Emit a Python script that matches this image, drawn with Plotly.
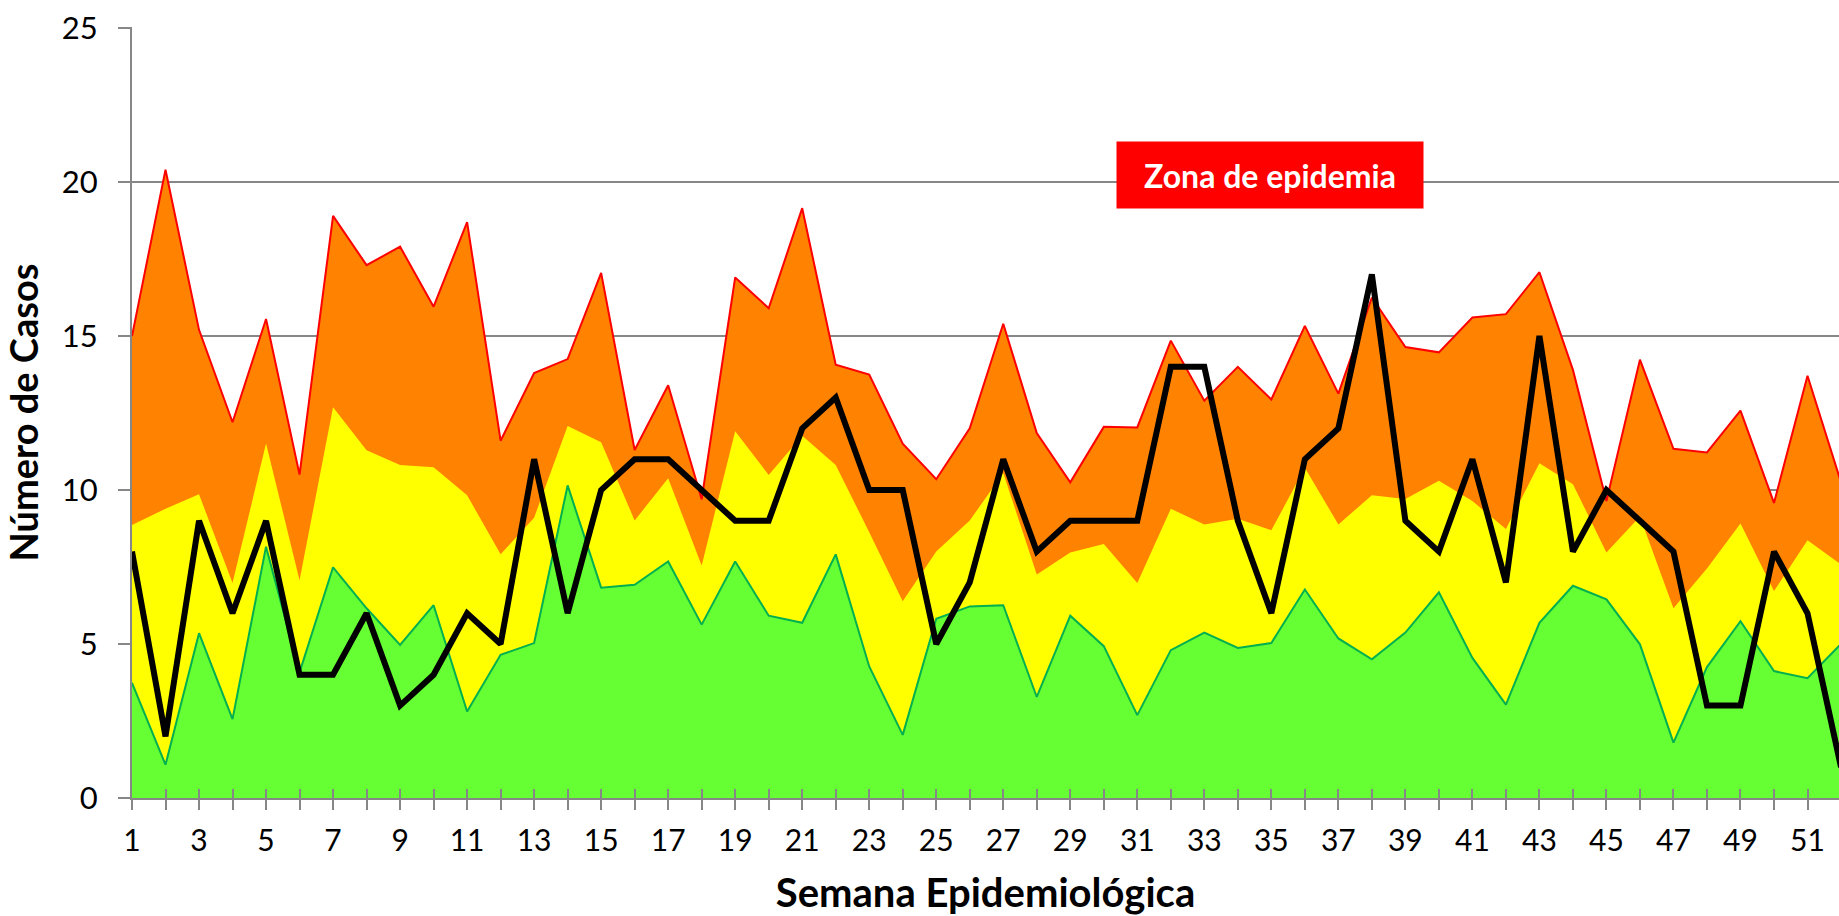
import plotly.graph_objects as go

weeks = list(range(1, 53))

# Upper limit (epidemic threshold) - top of orange zone
upper = [15.0, 20.4, 15.2, 12.2, 15.55, 10.5, 18.9, 17.3, 17.9, 15.95,
         18.7, 11.6, 13.8, 14.25, 17.05, 11.3, 13.4, 9.7, 16.9, 15.9,
         19.15, 14.07, 13.75, 11.5, 10.35, 12.0, 15.4, 11.85, 10.25, 12.05,
         12.03, 14.85, 12.9, 14.0, 12.94, 15.33, 13.13, 16.25, 14.64, 14.47,
         15.6, 15.71, 17.07, 13.9, 9.64, 14.23, 11.34, 11.22, 12.58, 9.58,
         13.71, 10.25]

# Median - top of yellow zone
median = [8.86, 9.39, 9.86, 6.98, 11.51, 7.07, 12.69, 11.29, 10.81, 10.74,
          9.83, 7.91, 9.1, 12.08, 11.55, 9.01, 10.38, 7.55, 11.91, 10.49,
          11.76, 10.81, 8.63, 6.39, 8.0, 9.01, 10.55, 7.26, 7.97, 8.25,
          6.98, 9.39, 8.88, 9.07, 8.69, 10.72, 8.88, 9.83, 9.71, 10.3,
          9.64, 8.73, 10.87, 10.19, 7.97, 9.14, 6.16, 7.45, 8.91, 6.72,
          8.37, 7.58]

# Lower limit - top of green zone (success)
lower = [3.74, 1.08, 5.35, 2.56, 8.16, 4.08, 7.49, 6.16, 4.97, 6.26,
         2.81, 4.65, 5.03, 10.15, 6.83, 6.92, 7.68, 5.63, 7.68, 5.92,
         5.69, 7.91, 4.27, 2.05, 5.82, 6.22, 6.26, 3.28, 5.92, 4.93,
         2.69, 4.8, 5.37, 4.87, 5.03, 6.77, 5.18, 4.5, 5.37, 6.68,
         4.55, 3.03, 5.69, 6.89, 6.45, 4.99, 1.8, 4.25, 5.74, 4.12,
         3.89, 5.0]

# Observed cases
cases = [8, 2, 9, 6, 9, 4, 4, 6, 3, 4, 6, 5, 11, 6, 10, 11, 11, 10, 9, 9,
         12, 13, 10, 10, 5, 7, 11, 8, 9, 9, 9, 14, 14, 9, 6, 11, 12, 17, 9, 8,
         11, 7, 15, 8, 10, 9, 8, 3, 3, 8, 6, 1]

y_ticks = [0, 5, 10, 15, 20, 25]

FONT = "Lato"
GRAY = "#878787"

fig = go.Figure()
fig.add_trace(go.Scatter(x=weeks, y=upper, mode="lines", fill="tozeroy",
                         fillcolor="#FF8200", line=dict(color="#FF0000", width=2),
                         name="Zona de epidemia", hoverinfo="skip"))
fig.add_trace(go.Scatter(x=weeks, y=median, mode="lines", fill="tozeroy",
                         fillcolor="#FFFF00", line=dict(color="#FFFF00", width=0),
                         name="Zona de alerta", hoverinfo="skip"))
fig.add_trace(go.Scatter(x=weeks, y=lower, mode="lines", fill="tozeroy",
                         fillcolor="#66FF33", line=dict(color="#00B050", width=2),
                         name="Zona de éxito", hoverinfo="skip"))
fig.add_trace(go.Scatter(x=weeks, y=cases, mode="lines",
                         line=dict(color="#000000", width=6),
                         name="Casos"))

x_range = [1, 51.94]
y_range = [0, 25.0325]

fig.update_layout(
    width=1839, height=916,
    paper_bgcolor="white", plot_bgcolor="white",
    margin=dict(l=132, r=0, t=27, b=118, autoexpand=False),
    showlegend=False,
    font=dict(family=FONT, color="black"),
    xaxis=dict(
        range=x_range, dtick=2, tick0=1, automargin=False,
        ticks="outside", ticklen=10, tickwidth=2, tickcolor=GRAY,
        minor=dict(dtick=1, tick0=1, ticks="outside", ticklen=10, tickwidth=2, tickcolor=GRAY),
        showline=True, linecolor=GRAY, linewidth=2,
        showgrid=False, zeroline=False,
        tickfont=dict(family=FONT, size=30, color="black"),
        ticklabelstandoff=5,
        title=dict(text="<b>Semana Epidemiológica</b>", font=dict(family=FONT, size=40, color="black"), standoff=23),
    ),
    xaxis2=dict(
        range=x_range, overlaying="x", anchor="y", side="bottom", automargin=False,
        dtick=1, tick0=1, ticks="inside", ticklen=9, tickwidth=2, tickcolor=GRAY,
        showticklabels=False, showgrid=False, zeroline=False, showline=False,
    ),
    yaxis=dict(
        range=y_range, tickvals=y_ticks, automargin=False,
        ticks="outside", ticklen=12, tickwidth=2, tickcolor=GRAY,
        showline=True, linecolor=GRAY, linewidth=2,
        showgrid=True, gridcolor=GRAY, gridwidth=2, zeroline=False,
        tickfont=dict(family=FONT, size=31, color="black"),
        ticklabelstandoff=14, ticklabeloverflow="allow",
        title=dict(text="<b>Número de Casos</b>", font=dict(family=FONT, size=38, color="black"), standoff=20),
    ),
)

# invisible trace to activate xaxis2
fig.add_trace(go.Scatter(x=[1], y=[0], xaxis="x2", mode="markers",
                         marker=dict(opacity=0), showlegend=False, hoverinfo="skip"))

fig.add_annotation(
    x=34.95, y=20.22, xref="x", yref="y",
    text="<b>Zona de epidemia</b>", showarrow=False,
    font=dict(family=FONT, size=32, color="white"),
    bgcolor="#FF0000", borderpad=0, width=306, height=66,
)

fig.write_html(
    "out.html",
    config={"displayModeBar": False},
    post_script="document.body.style.margin='0px';document.body.style.overflow='hidden';",
)
